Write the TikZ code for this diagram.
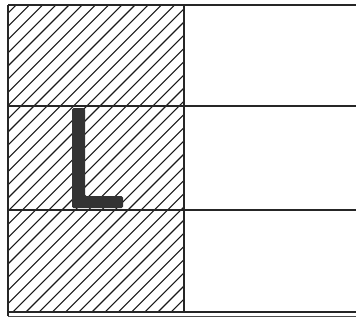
\documentclass[tikz,border=0pt]{standalone}
\usepackage{tikz}

\begin{document}
\begin{tikzpicture}[x=1pt, y=-1pt,
    hatchline/.style={line width=1.1pt, black!90},
    rule/.style={line width=1.8pt, draw=black!85},
    letter/.style={fill=black!80}]
    \useasboundingbox (0,0) rectangle (356,322);
    % hatched left column
    \begin{scope}
      \clip (8,5) rectangle (184,312);
      \foreach \k in {0,...,40} {
        \draw[hatchline] (8+13.2*\k-320,320) -- ++(330,-330);
      }
    \end{scope}
    % letter L
    \fill[letter, rounded corners=1.5pt] (72,108) -- (85,108) -- (85,196) -- (123,196) -- (123,208) -- (72,208) -- cycle;
    % grid
    \draw[rule] (8,5) -- (356,5);
    \draw[rule] (8,106) -- (356,106);
    \draw[rule] (8,210) -- (356,210);
    \draw[rule] (8,312) -- (356,312);
    \draw[line width=0.8pt, black!70] (8,316) -- (356,316);
    \draw[rule] (8,5) -- (8,316);
    \draw[rule] (184,5) -- (184,312);
  \end{tikzpicture}
\end{document}
